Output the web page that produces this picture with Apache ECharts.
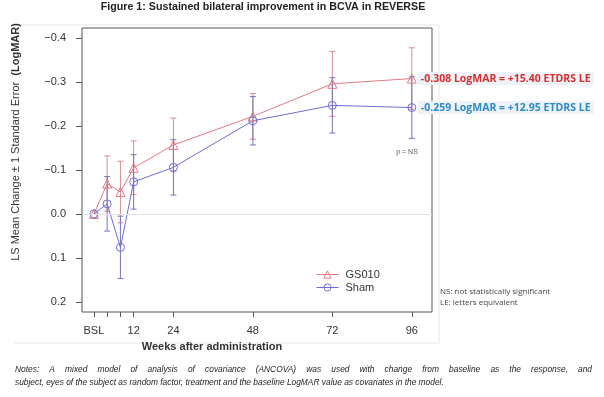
<!DOCTYPE html>
<html>
<head>
<meta charset="utf-8">
<script src="https://cdn.jsdelivr.net/npm/echarts@6/dist/echarts.min.js"></script>
<style>
html,body{margin:0;padding:0;background:#fff;}
#c{width:604px;height:397px;}
</style>
</head>
<body>
<div id="c"></div>
<script>
// ---- data ----
const weeks = [0, 4, 8, 12, 24, 48, 72, 96];
const tickWeeks = [0, 4, 8, 12, 24, 48, 72, 96];
const labelWeeks = [0, 12, 24, 48, 72, 96];
const yTicks = [-0.4, -0.3, -0.2, -0.1, 0.0, 0.1, 0.2];
const gs010Mean = [0, -0.069, -0.050, -0.105, -0.157, -0.222, -0.296, -0.308];
const gs010SE   = [0, 0.063, 0.070, 0.061, 0.061, 0.052, 0.074, 0.070];
const shamMean  = [0, -0.023, 0.076, -0.073, -0.106, -0.212, -0.247, -0.242];
const shamSE    = [0, 0.062, 0.071, 0.062, 0.063, 0.055, 0.063, 0.070];
const seriesNames = ['GS010', 'Sham'];
const endLabels = ['-0.308 LogMAR = +15.40 ETDRS LE', '-0.259 LogMAR = +12.95 ETDRS LE'];
const titleText = 'Figure 1: Sustained bilateral improvement in BCVA in REVERSE';
const yTitleA = 'LS Mean Change \u00b1 1 Standard Error  ';
const yTitleB = '(LogMAR)';
const xTitle = 'Weeks after administration';
const pText = 'p = NS';
const footnotes = ['NS: not statistically significant', 'LE: letters equivalent'];
const note1 = 'Notes: A mixed model of analysis of covariance (ANCOVA) was used with change from baseline as the response, and';
const note2 = 'subject, eyes of the subject as random factor, treatment and the baseline LogMAR value as covariates in the model.';

const RED = '#e27a84', BLUE = '#6c6cd4';
const RED_ERR = '#d98a94', BLUE_ERR = '#7474bc';
const CLEAR = 'rgba(255,255,255,0)';

function pts(mean){ return weeks.map((w,i)=>[w, mean[i]]); }
function errData(mean, se){ return weeks.map((w,i)=>[w, mean[i]-se[i], mean[i]+se[i]]); }

function errRender(color){
  return function(params, api){
    const x = api.value(0);
    const lo = api.value(1), hi = api.value(2);
    if (lo === hi) return null;
    const p1 = api.coord([x, lo]);
    const p2 = api.coord([x, hi]);
    const cw = 3;
    const st = {stroke: color, lineWidth: 1};
    return {type:'group', children:[
      {type:'line', shape:{x1:p1[0], y1:p1[1], x2:p2[0], y2:p2[1]}, style:st},
      {type:'line', shape:{x1:p1[0]-cw, y1:p1[1], x2:p1[0]+cw, y2:p1[1]}, style:st},
      {type:'line', shape:{x1:p2[0]-cw, y1:p2[1], x2:p2[0]+cw, y2:p2[1]}, style:st}
    ]};
  };
}

// text measuring for justified notes
const cv = document.createElement('canvas');
const ctx = cv.getContext('2d');
function mw(t, font){ ctx.font = font; return ctx.measureText(t).width; }
const NF = '"Liberation Sans", Arial, sans-serif';
const baseW = mw(note2, 'italic 10px ' + NF);
const noteSize = Math.round(10 * 430 / baseW * 10) / 10;
const noteFont = 'italic ' + noteSize + 'px ' + NF;
const words = note1.split(' ');
const wW = words.map(w => mw(w, noteFont));
const sumW = wW.reduce((a,b)=>a+b, 0);
const gap = (577 - sumW) / (words.length - 1);
const noteGraphics = [];
let cx = 15;
words.forEach((w,i)=>{
  noteGraphics.push({type:'text', x:cx, y:370, style:{text:w, font:noteFont, fill:'#222', verticalAlign:'middle'}});
  cx += wW[i] + gap;
});
noteGraphics.push({type:'text', x:15, y:383, style:{text:note2, font:noteFont, fill:'#222', verticalAlign:'middle'}});

const chart = echarts.init(document.getElementById('c'));
chart.setOption({
  animation: false,
  textStyle: {fontFamily: NF},
  grid: {left: 82, top: 28, right: 172, bottom: 85, show: true, borderColor: '#555', borderWidth: 1, backgroundColor: 'transparent'},
  xAxis: {
    type: 'value', min: -3.6, max: 102.1,
    axisLine: {show: false, onZero: false},
    splitLine: {show: false},
    axisTick: {show: true, inside: false, customValues: tickWeeks, length: 5, lineStyle: {color: '#555'}},
    axisLabel: {customValues: labelWeeks, margin: 13, fontSize: 11, color: '#333',
      formatter: v => v === 0 ? 'BSL' : String(v)}
  },
  yAxis: {
    type: 'value', inverse: true, min: -0.423, max: 0.223,
    axisLine: {show: false, onZero: false},
    splitLine: {show: false},
    axisTick: {show: true, inside: false, customValues: yTicks, length: 6, lineStyle: {color: '#555'}},
    axisLabel: {customValues: yTicks, margin: 16, fontSize: 11, color: '#333',
      formatter: v => { const s = Math.abs(v).toFixed(1); return (v < -1e-9 ? '\u2212' : '') + s; }}
  },
  legend: {
    data: seriesNames, orient: 'vertical', left: 311, top: 264, itemGap: 2,
    itemWidth: 22, itemHeight: 9,
    lineStyle: {width: 1},
    itemStyle: {borderWidth: 1},
    textStyle: {fontSize: 11, color: '#333', padding: [0,0,0,2]}
  },
  graphic: [
    {type:'line', shape:{x1:14, y1:25, x2:439, y2:25}, style:{stroke:'#e6e6e6', lineWidth:1}},
    {type:'line', shape:{x1:439, y1:25, x2:439, y2:343}, style:{stroke:'#e6e6e6', lineWidth:1}},
    {type:'line', shape:{x1:14, y1:343, x2:439, y2:343}, style:{stroke:'#e6e6e6', lineWidth:1}},
    {type:'text', x:263, y:7, style:{text:titleText, font:'bold 10.7px ' + NF, fill:'#222', align:'center', verticalAlign:'middle'}},
    {type:'text', x:16, y:142, rotation: Math.PI/2,
      style:{text:'{a|' + yTitleA + '}{b|' + yTitleB + '}', align:'center', verticalAlign:'middle',
        rich:{a:{fontSize:11, fontFamily:NF, fill:'#333', color:'#333'}, b:{fontSize:11, fontFamily:NF, fontWeight:'bold', color:'#333', fill:'#333'}}}},
    {type:'text', x:212, y:347, style:{text:xTitle, font:'bold 11px ' + NF, fill:'#333', align:'center', verticalAlign:'middle'}},
    {type:'text', x:407, y:152, style:{text:pText, font:'7px ' + NF, fill:'#555', align:'center', verticalAlign:'middle'}},
    {type:'text', x:440, y:292, style:{text:footnotes[0], font:'8px "Open Sans", sans-serif', fill:'#444', verticalAlign:'middle'}},
    {type:'text', x:440, y:303, style:{text:footnotes[1], font:'8px "Open Sans", sans-serif', fill:'#444', verticalAlign:'middle'}}
  ].concat(noteGraphics),
  series: [
    {type:'custom', name:'gsErr', renderItem: errRender(RED_ERR), data: errData(gs010Mean, gs010SE), encode:{x:0, y:[1,2]}, z:1, silent:true},
    {type:'custom', name:'shErr', renderItem: errRender(BLUE_ERR), data: errData(shamMean, shamSE), encode:{x:0, y:[1,2]}, z:1, silent:true},
    {type:'line', name: seriesNames[0], data: pts(gs010Mean), symbol:'triangle', symbolSize: 9,
      lineStyle:{color: RED, width:1}, itemStyle:{color: CLEAR, borderColor: RED, borderWidth:1}, z:3,
      markLine: {silent:true, symbol:'none', label:{show:false}, data:[{yAxis:0}], lineStyle:{color:'#e2e2e2', type:'solid', width:1}},
      endLabel: {show:true, formatter: endLabels[0], color:'#d6302e', fontSize: 10.5, fontWeight:'bold', fontFamily:'"Open Sans", sans-serif',
        backgroundColor:'#eef1f6', padding:[1,3,1,3], distance: 6}},
    {type:'line', name: seriesNames[1], data: pts(shamMean), symbol:'circle', symbolSize: 8,
      lineStyle:{color: BLUE, width:1}, itemStyle:{color: CLEAR, borderColor: BLUE, borderWidth:1}, z:3,
      endLabel: {show:true, formatter: endLabels[1], color:'#2b8cc4', fontSize: 10.5, fontWeight:'bold', fontFamily:'"Open Sans", sans-serif',
        backgroundColor:'#eef1f6', padding:[1,3,1,3], distance: 6}}
  ]
});
</script>
</body>
</html>
